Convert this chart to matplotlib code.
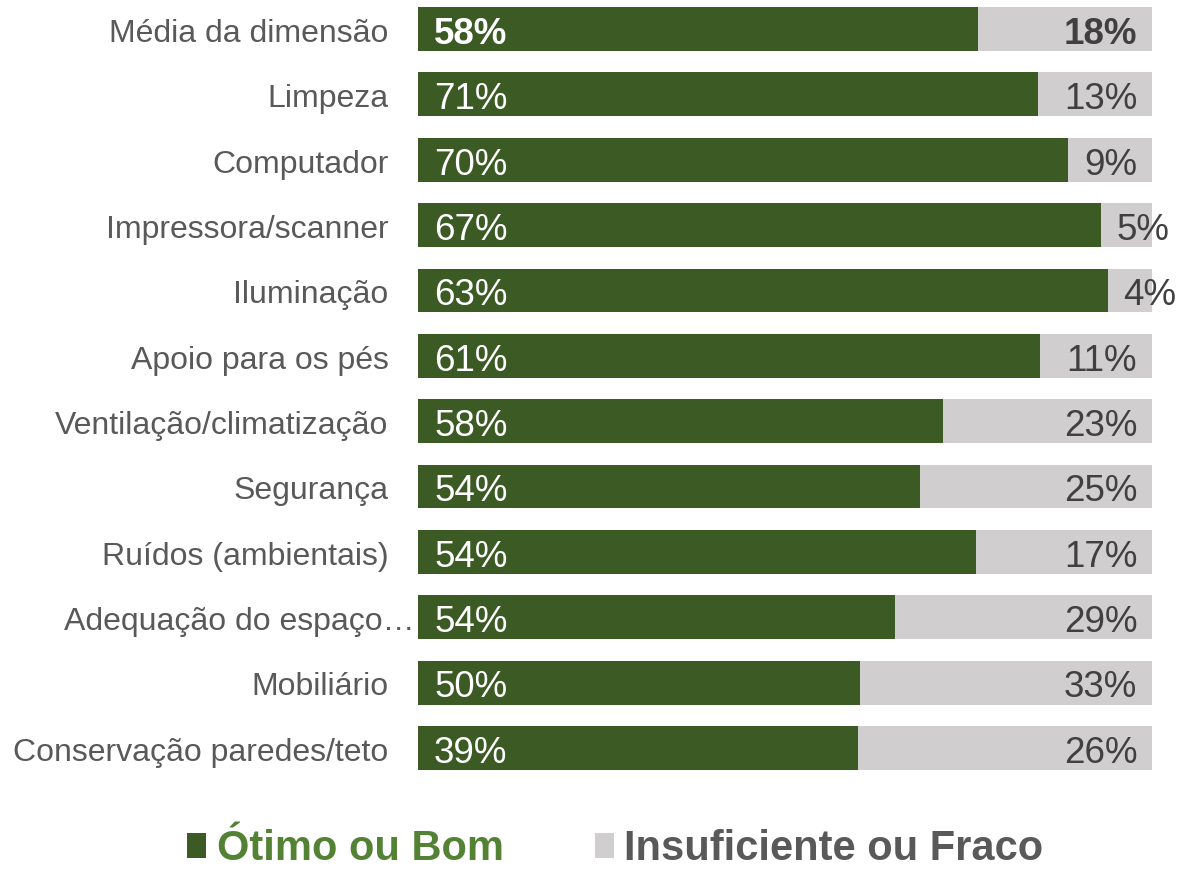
import matplotlib
matplotlib.use("Agg")
from matplotlib import pyplot as plt
import numpy as np

# Data
categories = ["Média da dimensão", "Limpeza", "Computador", "Impressora/scanner",
              "Iluminação", "Apoio para os pés", "Ventilação/climatização", "Segurança",
              "Ruídos (ambientais)", "Adequação do espaço…", "Mobiliário",
              "Conservação paredes/teto"]
good = np.array([58, 71, 70, 67, 63, 61, 58, 54, 54, 54, 50, 39])
bad = np.array([18, 13, 9, 5, 4, 11, 23, 25, 17, 29, 33, 26])

plt.rcParams['font.family'] = ['Liberation Sans', 'DejaVu Sans']

green = "#3b5a24"
grey = "#d0cecf"

# bars are normalised to the sum of the two shown answers
total = good + bad
good_frac = good / total
bad_frac = bad / total

fig = plt.figure(figsize=(11.79, 8.72), dpi=100)
ax = fig.add_axes([0.3545, 0.1047, 0.6225, 0.8995])

y = np.arange(len(categories))
b1 = ax.barh(y, good_frac, height=0.67, color=green, label="Ótimo ou Bom")
b2 = ax.barh(y, bad_frac, left=good_frac, height=0.67, color=grey, label="Insuficiente ou Fraco")

ax.set_xlim(0, 1)
ax.set_ylim(len(categories) - 0.5, -0.5)
ax.axis("off")

for i in range(len(categories)):
    weight = "bold" if i == 0 else "normal"
    # category label
    x_lab = -0.04 if i != 9 else -0.004
    ax.text(x_lab, i + 0.02, categories[i], ha="right", va="center_baseline", fontsize=23,
            color="#595959", transform=ax.get_yaxis_transform())
    # green value
    ax.text(0.022, i + 0.02, str(good[i]) + "%", ha="left", va="center_baseline", fontsize=26.5,
            color="white", fontweight=weight)
    # grey value
    if bad_frac[i] < 0.08:
        ax.text(good_frac[i] + 0.021, i + 0.02, str(bad[i]) + "%", ha="left", va="center_baseline",
                fontsize=26.5, color="#404040", fontweight=weight, clip_on=False)
    else:
        ax.text(0.98, i + 0.02, str(bad[i]) + "%", ha="right", va="center_baseline", fontsize=26.5,
                color="#404040", fontweight=weight)

leg = fig.legend(handles=[b1, b2], loc="center", bbox_to_anchor=(0.522, 0.026),
                 ncol=2, frameon=False, handlelength=0.45, handleheight=0.55,
                 handletextpad=0.25, columnspacing=2.2,
                 prop={"size": 30, "weight": "bold"})
leg.get_texts()[0].set_color("#548235")
leg.get_texts()[1].set_color("#595959")

fig.savefig("out.png", dpi=100)
